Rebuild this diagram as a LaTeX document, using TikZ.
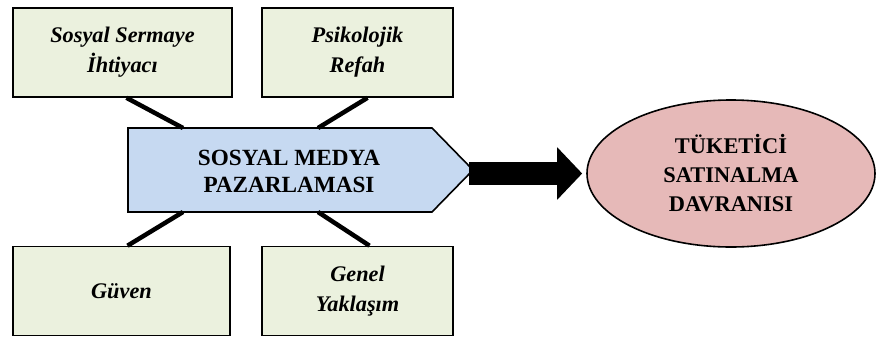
\documentclass[tikz,border=0pt]{standalone}
\usepackage{fontspec}
\setmainfont{Liberation Serif}
\usetikzlibrary{shapes.geometric,arrows.meta,calc}
\definecolor{boxfill}{HTML}{EBF1DE}
\definecolor{pmfill}{HTML}{C6D9F1}
\definecolor{elfill}{HTML}{E6B9B8}
\tikzset{
  factor/.style={draw=black,line width=1.6pt,fill=boxfill,minimum height=89pt,
    align=center,inner sep=0pt,font=\fontsize{22.3}{30}\selectfont\bfseries\itshape},
  conn/.style={line width=4.5pt,black},
}
\begin{document}
\begin{tikzpicture}[x=1pt,y=-1pt]
\useasboundingbox (0,0) rectangle (876,338);
% factor boxes
\node[factor,minimum width=219pt] (tl) at (122.5,52.5) {Sosyal Sermaye\\İhtiyacı};
\node[factor,minimum width=191pt] (tr) at (357.5,52.5) {Psikolojik\\Refah};
\node[factor,minimum width=217pt] (bl) at (121.5,291) {Güven};
\node[factor,minimum width=191pt] (br) at (357.5,291) {Genel\\Yaklaşım};
% central pentagon
\coordinate (pnw) at (128,128);
\coordinate (pne) at (432,128);
\coordinate (ptip) at (473,170);
\coordinate (pse) at (432,212);
\coordinate (psw) at (128,212);
\draw[line width=1.6pt,fill=pmfill,line join=miter] (pnw) -- (pne) -- (ptip) -- (pse) -- (psw) -- cycle;
\node[align=center,font=\fontsize{23.2}{27}\selectfont\bfseries] (pm) at (289,171) {SOSYAL MEDYA\\PAZARLAMASI};
% outcome ellipse
\node[ellipse,draw=black,line width=1.6pt,fill=elfill,minimum width=288pt,minimum height=147pt,
  align=center,inner sep=0pt,font=\fontsize{22.4}{29}\selectfont\bfseries] (out) at (731,173.5)
  {TÜKETİCİ\\SATINALMA\\DAVRANISI};
% connectors
\coordinate (ctl) at (183,128);
\coordinate (ctr) at (318,128);
\coordinate (cbl) at (183,212);
\coordinate (cbr) at (318,212);
\draw[conn] ([xshift=4pt]tl.south) -- (ctl);
\draw[conn] ([xshift=10pt]tr.south) -- (ctr);
\draw[conn] ([xshift=6pt]bl.north) -- (cbl);
\draw[conn] ([xshift=12pt]br.north) -- (cbr);
% big arrow
\coordinate (astart) at (469,173.5);
\draw[line width=23pt,-{Triangle[length=25pt,width=51pt]}] (astart) -- ([xshift=-4pt]out.west);
\end{tikzpicture}
\end{document}
